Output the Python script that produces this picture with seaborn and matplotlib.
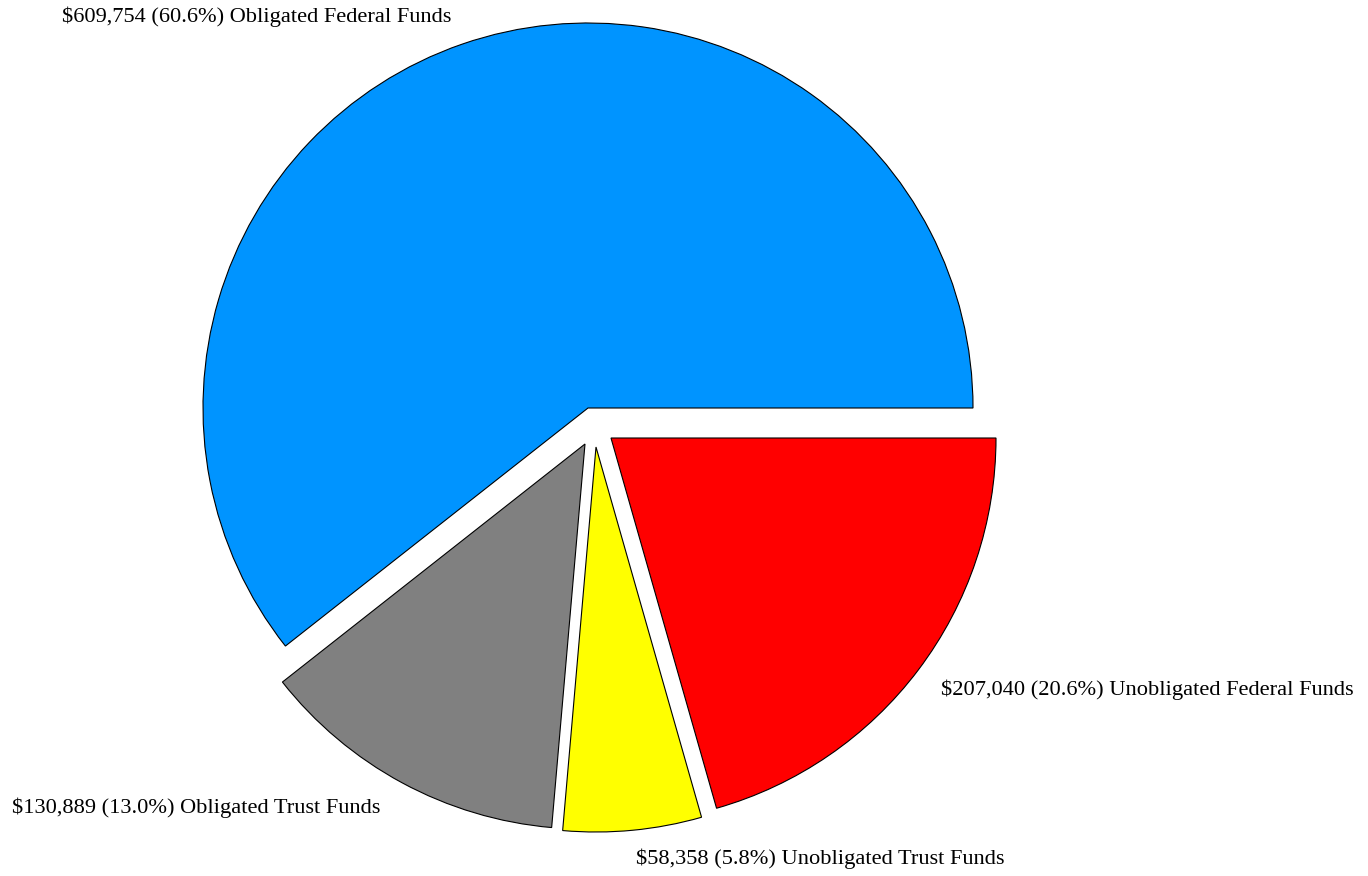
import matplotlib
matplotlib.use("Agg")
import matplotlib.pyplot as plt
import seaborn as sns
import numpy as np

categories = ["Obligated Federal Funds", "Obligated Trust Funds",
              "Unobligated Trust Funds", "Unobligated Federal Funds"]
amounts = [609754, 130889, 58358, 207040]
colors = ["#0094FF", "#808080", "#FFFF00", "#FF0000"]

sns.set_theme(style="white")
plt.rcParams["font.family"] = ["Liberation Serif", "DejaVu Serif"]

W, H = 1368, 876
fig = plt.figure(figsize=(W / 100, H / 100), dpi=100)
ax = fig.add_axes([0, 0, 1, 1])

cx, cy, r = 588, H - 408, 385
wedges, _ = ax.pie(amounts, colors=colors, startangle=0, counterclock=True,
                   center=(cx, cy), radius=r,
                   wedgeprops=dict(edgecolor="black", linewidth=0.8))
ax.set_xlim(0, W)
ax.set_ylim(0, H)
ax.set_aspect("equal")
ax.axis("off")

# explosion offsets (pixels) per slice
offsets = [(0, 0), (-3, -36), (8, -39), (23, -30)]
for w, (dx, dy) in zip(wedges, offsets):
    w.set_center((cx + dx, cy + dy))

total = sum(amounts)
label_pos = [(62, 17), (12, 808), (636, 859), (941, 690)]
for cat, amt, (lx, ly) in zip(categories, amounts, label_pos):
    txt = f"${amt:,} ({amt / total * 100:.1f}%) {cat}"
    ax.text(lx, H - ly, txt, ha="left", va="center", fontsize=16.1, color="black")

fig.savefig("out.png", dpi=100)
